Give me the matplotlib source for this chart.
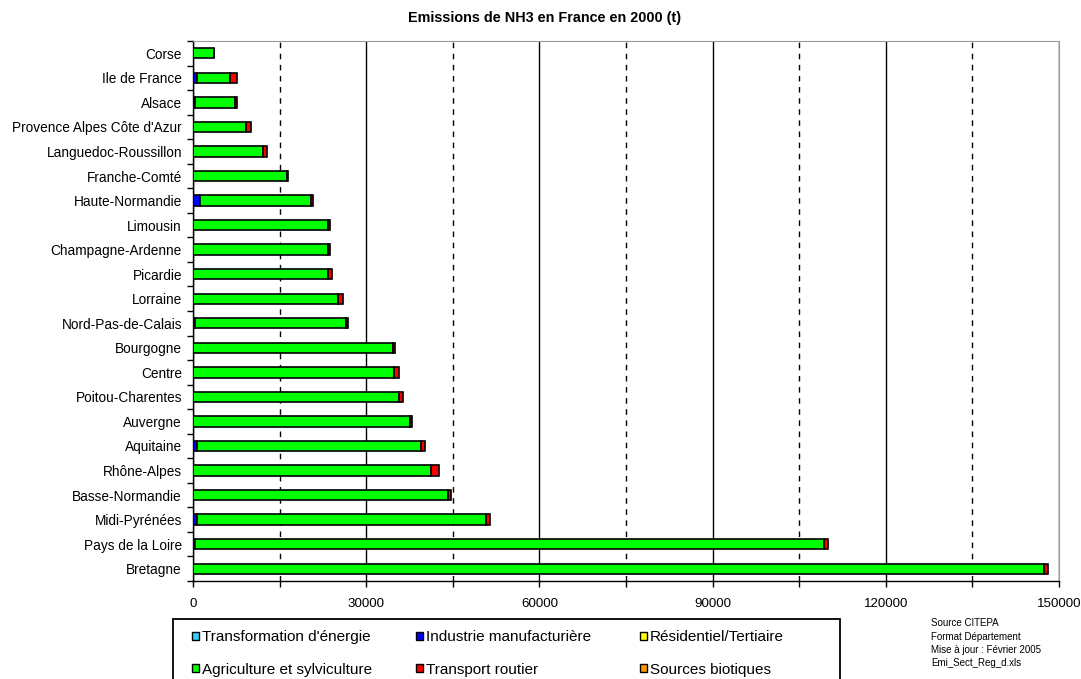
import matplotlib.pyplot as plt
from matplotlib.patches import Patch, Rectangle
from matplotlib.ticker import MultipleLocator

plt.rcParams["font.family"] = ["Liberation Sans", "DejaVu Sans"]

regions = [
    "Corse", "Ile de France", "Alsace", "Provence Alpes Côte d'Azur",
    "Languedoc-Roussillon", "Franche-Comté", "Haute-Normandie", "Limousin",
    "Champagne-Ardenne", "Picardie", "Lorraine", "Nord-Pas-de-Calais",
    "Bourgogne", "Centre", "Poitou-Charentes", "Auvergne", "Aquitaine",
    "Rhône-Alpes", "Basse-Normandie", "Midi-Pyrénées", "Pays de la Loire",
    "Bretagne",
]

energie = [0] * 22
industrie = [0, 700, 350, 0, 0, 0, 1270, 0, 0, 0, 0, 350,
             0, 0, 0, 0, 690, 0, 0, 690, 350, 0]
residentiel = [0] * 22
agriculture = [3560, 5750, 6900, 9150, 12100, 16240, 19170, 23380, 23380, 23380, 25160, 26150,
               34670, 34730, 35600, 37670, 38760, 41300, 44230, 50110, 109030, 147450]
transport = [0, 1250, 400, 980, 690, 300, 300, 350, 350, 690, 760, 350,
             300, 980, 690, 300, 750, 1260, 500, 690, 630, 690]
biotiques = [0] * 22

series = [
    ("Transformation d'énergie", energie, "#33CCFF"),
    ("Industrie manufacturière", industrie, "#0000FF"),
    ("Résidentiel/Tertiaire", residentiel, "#FFFF00"),
    ("Agriculture et sylviculture", agriculture, "#00FF00"),
    ("Transport routier", transport, "#FF0000"),
    ("Sources biotiques", biotiques, "#FF9900"),
]

W, H = 1081, 679
fig = plt.figure(figsize=(W / 100, H / 100), dpi=100)
ax = fig.add_axes([193 / W, 1 - 581 / H, (1059 - 193) / W, (581 - 41) / H])

ypos = list(range(len(regions)))
left = [0] * len(regions)
for name, vals, color in series:
    if any(vals):
        ax.barh(ypos, vals, left=left, height=0.42, color=color,
                edgecolor="black", linewidth=1.2, zorder=3)
    left = [a + b for a, b in zip(left, vals)]

ax.set_xlim(0, 150000)
ax.set_ylim(len(regions) - 0.5, -0.5)
ax.xaxis.set_major_locator(MultipleLocator(30000))
ax.xaxis.set_minor_locator(MultipleLocator(15000))
ax.grid(True, which="major", axis="x", color="black", linewidth=1.0, zorder=0)
ax.grid(True, which="minor", axis="x", color="black", linewidth=1.0,
        linestyle=(0, (4, 4)), zorder=0)
ax.set_axisbelow(True)

ax.set_yticks(ypos)
ax.set_yticklabels(regions, fontsize=9.8)
ax.set_yticks([y - 0.5 for y in ypos] + [len(regions) - 0.5], minor=True)
ax.tick_params(axis="y", which="major", length=0, pad=8)
ax.tick_params(axis="y", which="minor", length=4, width=1, direction="out")
ax.tick_params(axis="x", which="both", length=4, width=1, direction="out", pad=8,
               labelsize=9.6)

for s in ["left", "bottom"]:
    ax.spines[s].set_color("black")
    ax.spines[s].set_linewidth(1.0)
for s in ["top", "right"]:
    ax.spines[s].set_color("#999999")
    ax.spines[s].set_linewidth(0.8)

fig.text(545 / W, 1 - 18 / H, "Emissions de NH3 en France en 2000 (t)", ha="center", va="center",
         fontsize=10.4, fontweight="bold")

# legend: one small legend per column so the columns sit where the reference has them
col_x = [192, 416, 640]
for c in range(3):
    items = [series[c], series[c + 3]]
    hs = [Patch(facecolor=col, edgecolor="black", linewidth=1.0) for _, _, col in items]
    fig.legend(hs, [n for n, _, _ in items], loc="center left",
               bbox_to_anchor=(col_x[c] / W, 1 - 653.5 / H),
               bbox_transform=fig.transFigure, frameon=False, fontsize=11,
               borderpad=0, borderaxespad=0, handlelength=0.45, handleheight=0.45,
               handletextpad=0.2, labelspacing=1.18)

fig.patches.append(Rectangle((173 / W, -0.05), (840 - 173) / W, 0.05 + (H - 619) / H,
                             transform=fig.transFigure, fill=False, edgecolor="black",
                             linewidth=1.3, clip_on=False))

source_lines = ["Source CITEPA", "Format Département", "Mise à jour : Février 2005",
                "Emi_Sect_Reg_d.xls"]
for i, line in enumerate(source_lines):
    fig.text(931 / W, 1 - (623 + i * 13.5) / H, line, ha="left", va="center", fontsize=7)

fig.savefig("out.png", dpi=100)
